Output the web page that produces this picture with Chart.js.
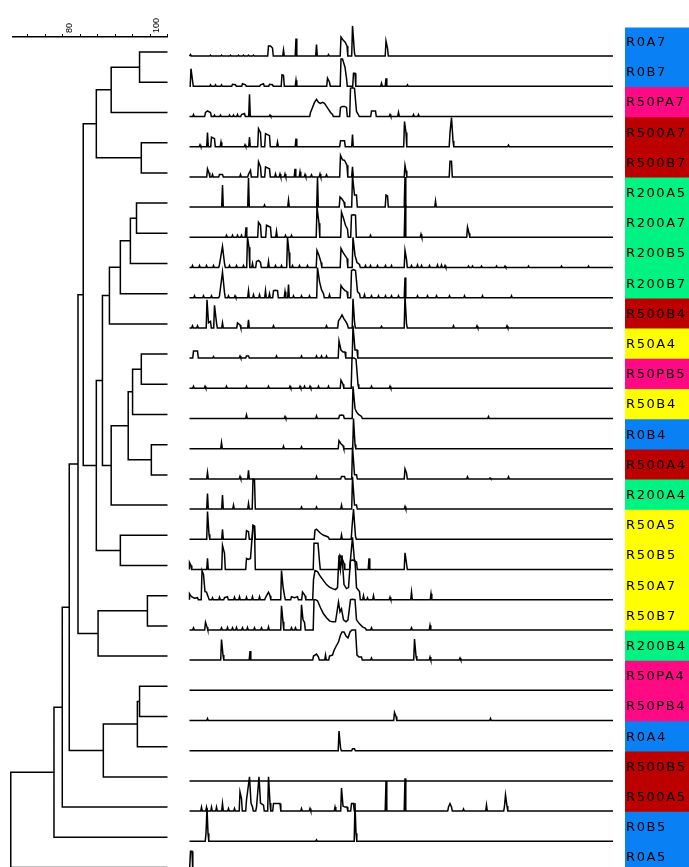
<!DOCTYPE html>
<html>
<head>
<meta charset="utf-8">
<title>Fingerprint dendrogram</title>
<script src="https://cdn.jsdelivr.net/npm/chart.js@4.4.1/dist/chart.umd.min.js"></script>
<style>
  html, body { margin: 0; padding: 0; background: #fff; overflow: hidden; }
  #wrap { position: relative; width: 689px; height: 867px; overflow: hidden; }
  #wrap canvas { position: absolute; left: 0; top: 0; }
</style>
</head>
<body>
<div id="wrap">
  <canvas id="tree" width="689" height="900"></canvas>
  <canvas id="traces" width="689" height="900"></canvas>
  <canvas id="names" width="689" height="900"></canvas>
</div>
<script>
// Samples, top to bottom
const SAMPLES = ['R0A7', 'R0B7', 'R50PA7', 'R500A7', 'R500B7', 'R200A5', 'R200A7', 'R200B5', 'R200B7', 'R500B4',
                 'R50A4', 'R50PB5', 'R50B4', 'R0B4', 'R500A4', 'R200A4', 'R50A5', 'R50B5', 'R50A7', 'R50B7',
                 'R200B4', 'R50PA4', 'R50PB4', 'R0A4', 'R500B5', 'R500A5', 'R0B5', 'R0A5'];

// Similarity scale (%)
const SCALE_TICKS = [68, 72, 76, 80, 84, 88, 92, 96, 100];
const SCALE_LABELS = [80, 100];

// Cluster merges: [left, right, similarity]. Leaves are 0..27, merge k creates node 28 + k
const MERGES = [
    [0, 1, 93.6], [28, 2, 87.1], [3, 4, 94.0], [29, 30, 83.7],
    [5, 6, 92.9], [32, 7, 91.5], [33, 8, 89.2], [34, 9, 86.7],
    [10, 11, 94.0], [36, 12, 92.0], [13, 14, 96.3], [37, 38, 91.0], [39, 15, 87.1],
    [35, 40, 85.1], [16, 17, 89.2], [41, 42, 83.7], [31, 43, 80.7],
    [18, 19, 95.4], [45, 20, 84.1], [44, 46, 79.5],
    [21, 22, 93.6], [48, 23, 93.1], [49, 24, 85.3], [47, 50, 77.5],
    [51, 25, 75.9], [52, 26, 74.0], [53, 27, 64.1]
];

// Band patterns: [migration position, intensity]
const peaksR0A7 = [[1, 1.5], [21, 1], [32, 1], [41, 1], [49, 1], [54, 1], [59, 1], [64, 1], [79, 10], [81, 10], [83, 8], [94, 6],
    [106.5, 17.5], [127, 11.5], [139, 1.5], [151.5, 19], [153.5, 16], [155.5, 14], [157.5, 10], [163, 30], [165, 3], [196.5, 15], [198, 8]];
const peaksR0B7 = [[1.5, 17.5], [3, 6], [21, 1.5], [26, 1.5], [32, 1.5], [43, 2], [46, 1.5], [53, 2.5], [56, 1.5], [71, 1.5], [74, 2.5],
    [80, 2], [83, 1.5], [92.5, 11.5], [94, 11], [106.5, 6], [138, 8], [140, 4], [151.5, 27], [153, 27], [155.5, 19], [157, 8],
    [164, 13], [165.5, 13], [192, 3], [196.5, 8], [218, 1.5]];
const peaksR50PA7 = [[4, 2], [16, 4], [18, 5.5], [21, 4], [25, 1.5], [31, 1.5], [40, 1.5], [44, 1.5], [48, 2], [52, 2], [55, 3], [60, 22],
    [80.5, 1.5], [121, 4], [123, 9], [125, 14], [127, 17], [129, 14], [131, 13], [133, 14], [135, 13], [137, 10], [139, 7], [141, 4],
    [143, 2], [151, 9], [153, 10], [155, 10], [157, 9], [161, 28], [163, 28.5], [165, 28], [167, 5], [169, 1.5], [182, 5.5],
    [184, 5.5], [186, 5.5], [200.5, 2], [209, 4], [224, 2], [229, 2]];
const peaksR500A7 = [[10.5, 2], [18, 14], [22, 9.5], [25, 8], [31.5, 4.5], [55.5, 2], [60, 9.5], [69, 18], [71, 14], [76, 13], [78, 12],
    [80, 11], [88, 4.5], [106.5, 8], [151, 6], [153, 6], [155, 6], [163, 12], [215, 25], [216.5, 14], [260.5, 14], [262, 29],
    [263.5, 6], [319, 1.5]];
const peaksR500B7 = [[18, 8], [19.5, 4], [23, 2.5], [30, 2.5], [33, 2.5], [51, 2.5], [59, 2.5], [61, 6.5], [69, 15], [71, 10], [76, 10],
    [78, 9], [80, 8], [86, 3], [90.5, 3], [95.5, 3], [105.5, 8], [110.5, 5], [115.5, 2.5], [122, 2], [130.5, 3], [137, 2],
    [151, 21.5], [153, 17], [155, 16.5], [157.5, 11.5], [163, 10], [215.5, 11.5], [216.5, 6], [260.5, 15.5], [262, 15.5]];
const peaksR200A5 = [[33, 22], [59, 29], [75, 2], [99, 7], [128, 30], [150.5, 10], [152.5, 8], [154.5, 5], [163, 31], [165, 12],
    [167, 12], [196.5, 12], [198, 11], [215.5, 30], [246, 6]];
const peaksR200A7 = [[37, 2], [43, 2], [48, 2], [52, 2], [56.5, 10], [69, 15], [71, 12], [77, 12], [79, 11], [81, 10], [87, 6], [96, 2],
    [102, 2], [127.5, 30], [129.5, 14], [152, 25], [154, 19], [156, 12], [158, 8], [162, 22], [164, 22.5], [166, 22], [181, 2],
    [215.5, 32], [231.5, 3], [278, 10], [279.5, 4]];
const peaksR200B5 = [[3, 2], [10, 2], [17, 2], [24, 2], [30, 3], [33, 21], [35, 4], [40, 2], [47, 2], [54, 2], [58, 30], [59.5, 20],
    [63, 4], [67, 6], [69, 7], [71, 5], [79, 6], [86, 2], [92, 2], [98, 30], [99.5, 15], [103, 2], [110, 2], [118, 2], [127.5, 17],
    [129.5, 12], [131.5, 5], [151.5, 19], [153.5, 15], [155.5, 12], [157.5, 9], [163.5, 30], [165.5, 12], [167.5, 5], [170, 3],
    [176, 2], [181, 2], [188, 2], [196, 2], [202, 2], [215.5, 17], [217, 8], [222, 2], [228, 2.5], [232, 2], [240, 2], [248, 2.5],
    [252, 2.5], [255.5, 2], [279, 1.5], [283, 1.5], [292, 1.5], [307, 1.5], [315.5, 1.5], [339, 1.5], [372, 1.5], [399, 1.5]];
const peaksR200B7 = [[5, 2], [14, 2], [22, 2], [30, 2], [33, 25.5], [35, 5], [39, 2], [45.5, 2], [59, 7], [64, 3], [70, 3], [76, 7],
    [80, 4], [84, 7], [86, 7.5], [88, 7], [95.5, 6], [99, 13], [104, 2], [112, 2], [120, 2], [128, 30], [130, 16], [132, 8], [134, 4],
    [140, 3], [151.5, 12], [153.5, 9], [155.5, 7], [157.5, 6], [162, 27], [164, 28], [166, 27], [168, 6], [170, 4], [175, 3],
    [182, 2], [189, 2], [196, 2], [202, 2], [209, 2], [215.5, 20], [228, 2], [238, 2], [247, 2], [260, 2], [275, 2], [293, 2], [322, 2]];
const peaksR500B4 = [[3, 2], [8, 2], [17.5, 28], [19, 5], [21, 6.5], [25, 22.5], [27, 5], [33, 5], [48, 5], [50.5, 3], [59, 8], [84, 2],
    [137, 2], [149, 7], [151, 10], [152.5, 13], [154.5, 9], [156.5, 6], [158, 3], [163.5, 29], [165, 6], [192, 1.5], [215.5, 32],
    [217, 4], [264, 2], [287.5, 2], [317.5, 2]];
const peaksR50A4 = [[4, 7], [6, 7], [8, 7], [24, 1.5], [50.5, 2], [57, 2], [59, 2], [87, 2], [112, 2], [127, 2], [132, 2], [137, 2],
    [149.5, 17], [151.5, 8], [153.5, 6], [155.5, 6], [163.5, 32], [165.5, 8], [167.5, 8]];
const peaksR50PB5 = [[4, 2], [15.5, 2], [37, 2], [57, 2], [79, 2], [100.5, 2], [110.5, 2], [115, 2], [120.5, 2], [129, 2], [139, 2],
    [151.5, 8], [153.5, 4], [162.5, 30], [164.5, 30], [166.5, 29], [168.5, 4], [182, 2], [200.5, 2]];
const peaksR50B4 = [[57, 3.5], [95.5, 2], [127, 2.5], [150, 3], [152, 3.5], [154, 3], [163.5, 32], [165.5, 10], [167, 6.5], [169, 4],
    [172, 2], [299, 2]];
const peaksR0B4 = [[32, 6], [94, 2.5], [112, 2], [149.5, 8], [151.5, 5], [153.5, 3], [164, 30], [165.5, 4]];
const peaksR500A4 = [[18, 6.5], [50.5, 2.5], [59, 8.5], [127, 2.5], [152, 2.5], [155, 2.5], [163, 32], [165, 4], [167, 4], [215.5, 10],
    [217, 6], [278, 2], [300.5, 1], [319, 2]];
const peaksR200A4 = [[18, 15.5], [33, 14], [44, 4], [59, 5.5], [63.5, 29.5], [65, 29], [112, 2], [127, 2], [152, 4], [163, 32], [165, 4],
    [167, 4], [215.5, 2.5]];
const peaksR50A5 = [[18, 27.5], [19.5, 5], [33, 10], [57, 8.5], [59, 7.5], [63.5, 13], [65, 13], [125.5, 9], [127, 10], [129, 8],
    [131, 6], [134, 4], [137, 3], [139, 2], [152, 4.5], [162.5, 12], [164, 30], [166, 3]];
const peaksR50B5 = [[0, 7], [1.5, 4], [18, 11], [33, 24], [35, 16], [57, 11], [59, 10], [61, 11], [63.5, 44], [65, 43], [124.5, 26],
    [126.5, 26], [128.5, 26], [130, 8], [150.5, 14], [152.5, 11], [154.5, 6], [161, 10], [163, 32], [165, 8], [167, 7.5],
    [179.5, 11], [215.5, 16.5], [217, 6]];
const peaksR50A7 = [[0, 6], [2, 3], [5, 1.5], [8, 2], [12.5, 29], [14, 25], [15.5, 8], [17, 7.5], [19, 2], [23, 2], [30, 2.5], [35, 2],
    [38, 3], [45, 2.5], [50, 3], [57, 2.5], [63, 3], [70, 3], [76, 2], [79, 7.5], [80.5, 4], [92, 29], [93.5, 13], [95, 4], [102, 3],
    [105, 2], [108, 3], [113, 7.5], [115.5, 4], [124, 20], [125.5, 29], [128, 28], [131, 23], [134, 19], [137, 15], [140, 12.5],
    [143, 11], [146, 10], [148, 12], [149.5, 44], [151, 30], [152.5, 44], [154.5, 15], [157, 11], [159, 12], [161, 39],
    [163, 39.5], [165.5, 39], [167, 12], [170, 8], [174, 4], [178, 2], [184, 4], [200.5, 2.5], [222, 7.5], [241.5, 6]];
const peaksR50B7 = [[4, 2], [16, 7.5], [17.5, 3], [32, 2], [38, 2.5], [43, 2], [47, 2.5], [53, 2], [58, 2.5], [65, 2], [72, 2], [79, 3],
    [92, 24], [93.5, 8], [102, 2], [106, 2], [112, 25], [113.5, 10], [115, 7.5], [124.5, 30], [126, 30], [128, 29], [131, 22],
    [134, 16], [137, 12], [140, 9], [143, 8], [146, 8], [149, 27.5], [150.5, 18], [152, 21], [154, 10], [156.5, 8], [158.5, 10],
    [161, 30], [163, 30.5], [165.5, 30], [167, 10], [170, 6], [173, 3], [176, 1.5], [182, 2], [222, 2], [240.5, 4.5]];
const peaksR200B4 = [[32, 20.5], [33.5, 5], [60.5, 9], [124, 4], [127, 6], [129, 3], [136, 5], [140, 4], [143, 5], [144.5, 9.5],
    [147, 14.5], [149, 18], [151, 25], [152.5, 28], [154.5, 28], [156.5, 24], [158.5, 22], [160.5, 28], [162.5, 30], [164.5, 30],
    [166, 30], [167.5, 5], [169.5, 3], [172, 3], [182, 2], [225, 21], [226.5, 4], [240.5, 3], [270.5, 2]];
const peaksR50PA4 = [];
const peaksR50PB4 = [[18, 2], [205, 8], [206.5, 4], [301, 2]];
const peaksR0A4 = [[149.5, 19.5], [151, 3], [163, 2], [165, 2]];
const peaksR500B5 = [];
const peaksR500A5 = [[12, 4], [17, 4], [22, 4], [27, 4], [33, 7.5], [39, 2.5], [45, 2.5], [50.5, 19], [52, 12.5], [57, 11], [60, 34],
    [61.5, 8], [63, 4], [67, 4], [69.5, 34], [71, 8], [74, 6], [79, 34], [80.5, 8], [84, 7.5], [86, 7.5], [88, 7.5], [90.5, 7.5],
    [112, 2.5], [120.5, 2.5], [145.5, 4], [152, 23], [153.5, 5], [155.5, 4], [157.5, 4], [162, 7.5], [164, 7.5], [196.5, 30],
    [215.5, 32.5], [259, 4], [260.5, 7.5], [262, 4], [274, 2], [297, 6], [315, 5], [316, 16], [317.5, 5]];
const peaksR0B5 = [[16.5, 8], [17.5, 33], [18.5, 8], [127, 1.5], [165.5, 38], [166.5, 8]];
const peaksR0A5 = [[1, 20], [2.5, 20]];

const TRACES = [peaksR0A7, peaksR0B7, peaksR50PA7, peaksR500A7, peaksR500B7, peaksR200A5, peaksR200A7, peaksR200B5, peaksR200B7,
    peaksR500B4, peaksR50A4, peaksR50PB5, peaksR50B4, peaksR0B4, peaksR500A4, peaksR200A4, peaksR50A5, peaksR50B5, peaksR50A7,
    peaksR50B7, peaksR200B4, peaksR50PA4, peaksR50PB4, peaksR0A4, peaksR500B5, peaksR500A5, peaksR0B5, peaksR0A5];

const TRACE_END = 423.5;   // last migration position
const ROW_INTENSITY = 30;  // intensity that fills one row
const PEAK_HALF = 0.8;     // half width of a single band
const MERGE_GAP = 3.5;     // bands closer than this run together without returning to baseline

const GROUP_COLORS = { R0: '#0A80F5', R50: '#FFFF00', R50P: '#FF0A84', R200: '#00F283', R500: '#BC0000' };

function groupColor(name) {
    if (name.startsWith('R50P')) return GROUP_COLORS.R50P;
    if (name.startsWith('R500')) return GROUP_COLORS.R500;
    if (name.startsWith('R200')) return GROUP_COLORS.R200;
    if (name.startsWith('R50')) return GROUP_COLORS.R50;
    return GROUP_COLORS.R0;
}

// Bracket lines of the dendrogram, one polyline per merge separated by gaps
function buildTree() {
    const ys = SAMPLES.map((_, i) => i);
    const xs = SAMPLES.map(() => 100);
    const pts = [];
    MERGES.forEach(([a, b, sim]) => {
        pts.push({ x: xs[a], y: ys[a] }, { x: sim, y: ys[a] }, { x: sim, y: ys[b] }, { x: xs[b], y: ys[b] }, { x: NaN, y: NaN });
        ys.push((ys[a] + ys[b]) / 2);
        xs.push(sim);
    });
    return pts;
}

// Densitometric curve of one lane, bands drawn as narrow spikes above the baseline
function buildTrace(row, peaks) {
    const pts = [{ x: 0, y: row }];
    let open = false;
    peaks.forEach(([p, h], i) => {
        const next = peaks[i + 1];
        if (!open && p - PEAK_HALF > 0) pts.push({ x: p - PEAK_HALF, y: row });
        pts.push({ x: p, y: row - h / ROW_INTENSITY });
        open = !!next && next[0] - p < MERGE_GAP;
        if (!open) pts.push({ x: p + PEAK_HALF, y: row });
    });
    pts.push({ x: TRACE_END, y: row });
    return pts;
}

const rowScale = { type: 'linear', display: false, reverse: true, min: -0.5, max: SAMPLES.length - 0.5 };
const quiet = { legend: { display: false }, tooltip: { enabled: false } };

// Dendrogram with similarity scale bar on top
new Chart(document.getElementById('tree'), {
    type: 'scatter',
    data: {
        datasets: [{
            data: buildTree(),
            showLine: true,
            borderColor: '#000',
            borderWidth: 1.5,
            borderJoinStyle: 'miter',
            pointRadius: 0,
            clip: false
        }]
    },
    options: {
        responsive: false,
        animation: false,
        events: [],
        layout: { padding: { left: 12.5, right: 521.5, top: 0, bottom: 17.4 } },
        plugins: quiet,
        scales: {
            x: {
                type: 'linear',
                position: 'top',
                min: 64.5,
                max: 100,
                afterBuildTicks: s => { s.ticks = SCALE_TICKS.map(v => ({ value: v })); },
                afterFit: s => { s.height = 37; },
                grid: { drawOnChartArea: false, tickLength: 3, tickColor: '#000', tickWidth: 1 },
                border: { color: '#000', width: 1.4 },
                ticks: {
                    minRotation: 90,
                    maxRotation: 90,
                    autoSkip: false,
                    padding: 1,
                    color: '#000',
                    font: { family: 'Liberation Sans', size: 9 },
                    callback: v => SCALE_LABELS.includes(v) ? String(v) : ''
                }
            },
            y: rowScale
        }
    }
});

// Lane curves
new Chart(document.getElementById('traces'), {
    type: 'scatter',
    data: {
        datasets: TRACES.map((peaks, row) => ({
            data: buildTrace(row, peaks),
            showLine: true,
            borderColor: '#000',
            borderWidth: 1.5,
            pointRadius: 0,
            clip: false
        }))
    },
    options: {
        responsive: false,
        animation: false,
        events: [],
        layout: { padding: { left: 189.5, right: 76, top: 41, bottom: 13.4 } },
        plugins: quiet,
        scales: {
            x: { type: 'linear', display: false, min: 0, max: TRACE_END },
            y: rowScale
        }
    }
});

// Coloured sample name cells
new Chart(document.getElementById('names'), {
    type: 'bar',
    data: {
        labels: SAMPLES,
        datasets: [{
            data: SAMPLES.map(() => 1),
            backgroundColor: SAMPLES.map(groupColor),
            barPercentage: 1.06,
            categoryPercentage: 1,
            borderWidth: 0
        }]
    },
    options: {
        indexAxis: 'y',
        responsive: false,
        animation: false,
        events: [],
        layout: { padding: { left: 625, right: 0, top: 27.5, bottom: 26.9 } },
        plugins: quiet,
        scales: {
            x: { display: false, min: 0, max: 1 },
            y: {
                position: 'left',
                afterFit: s => { s.width = 0; },
                grid: { display: false, drawTicks: false },
                border: { display: false },
                ticks: { mirror: true, z: 1, padding: 1, color: '#000', font: { family: 'DejaVu Sans', size: 13 } }
            }
        }
    },
    plugins: [{
        id: 'nameSpacing',
        beforeDraw(chart) { chart.ctx.letterSpacing = '1.6px'; }
    }]
});
</script>
</body>
</html>
